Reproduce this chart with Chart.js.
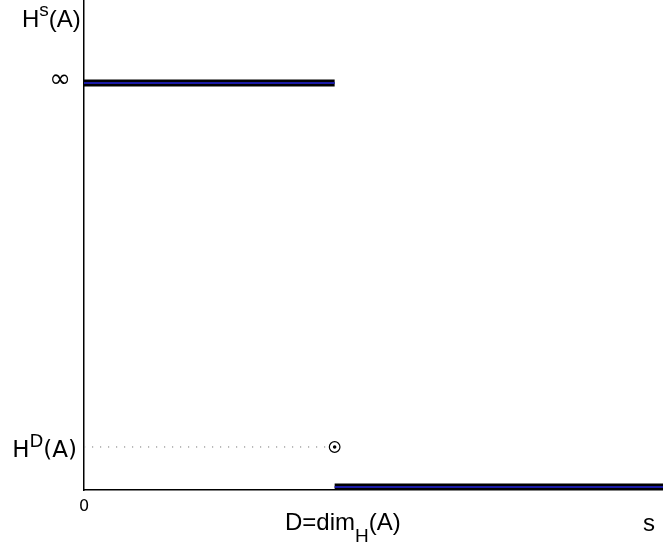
<!DOCTYPE html>
<html>
<head>
<meta charset="utf-8">
<script src="https://cdn.jsdelivr.net/npm/chart.js@4"></script>
<style>
  html, body { margin: 0; padding: 0; background: #fff; }
  #wrap { width: 663px; height: 543px; }
</style>
</head>
<body>
<div id="wrap"><canvas id="hausdorff"></canvas></div>
<script>
// s axis runs 0..sMax, D = dim_H(A)
const sMax = 2.31;
const dimD = 1;
// levels of H^s(A) on a 0..1 plot scale
const levelInfinity = 0.8306;
const levelHD = 0.0878;
const levelZero = 0.0061;

const upperSegment = [{x: 0, y: levelInfinity}, {x: dimD, y: levelInfinity}];
const lowerSegment = [{x: dimD, y: levelZero}, {x: sMax, y: levelZero}];
const guideSegment = [{x: 0, y: levelHD}, {x: dimD, y: levelHD}];
const hdPoint = [{x: dimD, y: levelHD}];

const sansA = '"Liberation Sans", Arial, sans-serif';
const sansB = '"DejaVu Sans", sans-serif';

// text with a super- or subscript piece
function drawScripted(ctx, parts, x, y, size, font, align) {
    const small = Math.round(size * 0.8);
    let total = 0;
    for (const p of parts) {
        ctx.font = (p.sup || p.sub ? small : size) + 'px ' + font;
        total += ctx.measureText(p.t).width;
    }
    let cx = align === 'right' ? x - total : x;
    ctx.textAlign = 'left';
    ctx.textBaseline = 'alphabetic';
    for (const p of parts) {
        const sz = p.sup || p.sub ? small : size;
        ctx.font = sz + 'px ' + font;
        let dy = 0;
        if (p.sup) dy = -size * 0.45;
        if (p.sub) dy = size * 0.5;
        ctx.fillText(p.t, cx, y + dy);
        cx += ctx.measureText(p.t).width;
    }
}

const labelPlugin = {
    id: 'labels',
    afterDraw(chart) {
        const {ctx, scales: {x, y}} = chart;
        ctx.save();
        ctx.fillStyle = '#000';
        drawScripted(ctx, [{t: 'H'}, {t: 's', sup: true}, {t: '(A)'}], 22, 27, 24, sansA, 'left');

        ctx.font = '26px ' + sansB;
        ctx.textAlign = 'center';
        ctx.textBaseline = 'middle';
        ctx.fillText('∞', 60, y.getPixelForValue(levelInfinity) - 3);

        drawScripted(ctx, [{t: 'H'}, {t: 'D', sup: true}, {t: '(A)'}], 77, y.getPixelForValue(levelHD) + 10, 23, sansB, 'right');

        ctx.font = '16px ' + sansB;
        ctx.textAlign = 'center';
        ctx.textBaseline = 'middle';
        ctx.fillText('0', x.getPixelForValue(0), 507);

        drawScripted(ctx, [{t: 'D=dim'}, {t: 'H', sub: true}, {t: '(A)'}], 285, 530, 24, sansA, 'left');

        ctx.font = '24px ' + sansA;
        ctx.textAlign = 'left';
        ctx.textBaseline = 'alphabetic';
        ctx.fillText('s', 643, 531);
        ctx.restore();
    }
};

new Chart(document.getElementById('hausdorff'), {
    type: 'scatter',
    data: {
        datasets: [
            {data: hdPoint, order: 1, pointRadius: 1.8, pointBorderWidth: 0, pointBackgroundColor: '#000'},
            {data: hdPoint, order: 2, pointRadius: 5.3, pointBorderWidth: 1.2, pointBorderColor: '#000', pointBackgroundColor: '#fff'},
            {data: upperSegment, order: 3, showLine: true, borderColor: '#1a1aa6', borderWidth: 2, pointRadius: 0},
            {data: lowerSegment, order: 3, showLine: true, borderColor: '#1a1aa6', borderWidth: 2, pointRadius: 0},
            {data: upperSegment, order: 4, showLine: true, borderColor: '#000', borderWidth: 7, pointRadius: 0, borderCapStyle: 'butt'},
            {data: lowerSegment, order: 4, showLine: true, borderColor: '#000', borderWidth: 7, pointRadius: 0, borderCapStyle: 'butt'},
            {data: guideSegment, order: 5, showLine: true, borderColor: '#777', borderWidth: 1, borderDash: [1.2, 6.8], pointRadius: 0}
        ]
    },
    options: {
        responsive: true,
        maintainAspectRatio: false,
        animation: false,
        layout: {autoPadding: false, padding: {left: 84, bottom: 53, top: 0, right: 0}},
        plugins: {legend: {display: false}, tooltip: {enabled: false}},
        scales: {
            x: {
                type: 'linear', min: 0, max: sMax,
                grid: {display: false, drawTicks: false},
                ticks: {display: false},
                border: {display: true, color: '#000', width: 1.5}
            },
            y: {
                type: 'linear', min: 0, max: 1,
                grid: {display: false, drawTicks: false},
                ticks: {display: false},
                border: {display: true, color: '#000', width: 1.5}
            }
        }
    },
    plugins: [labelPlugin]
});
</script>
</body>
</html>
